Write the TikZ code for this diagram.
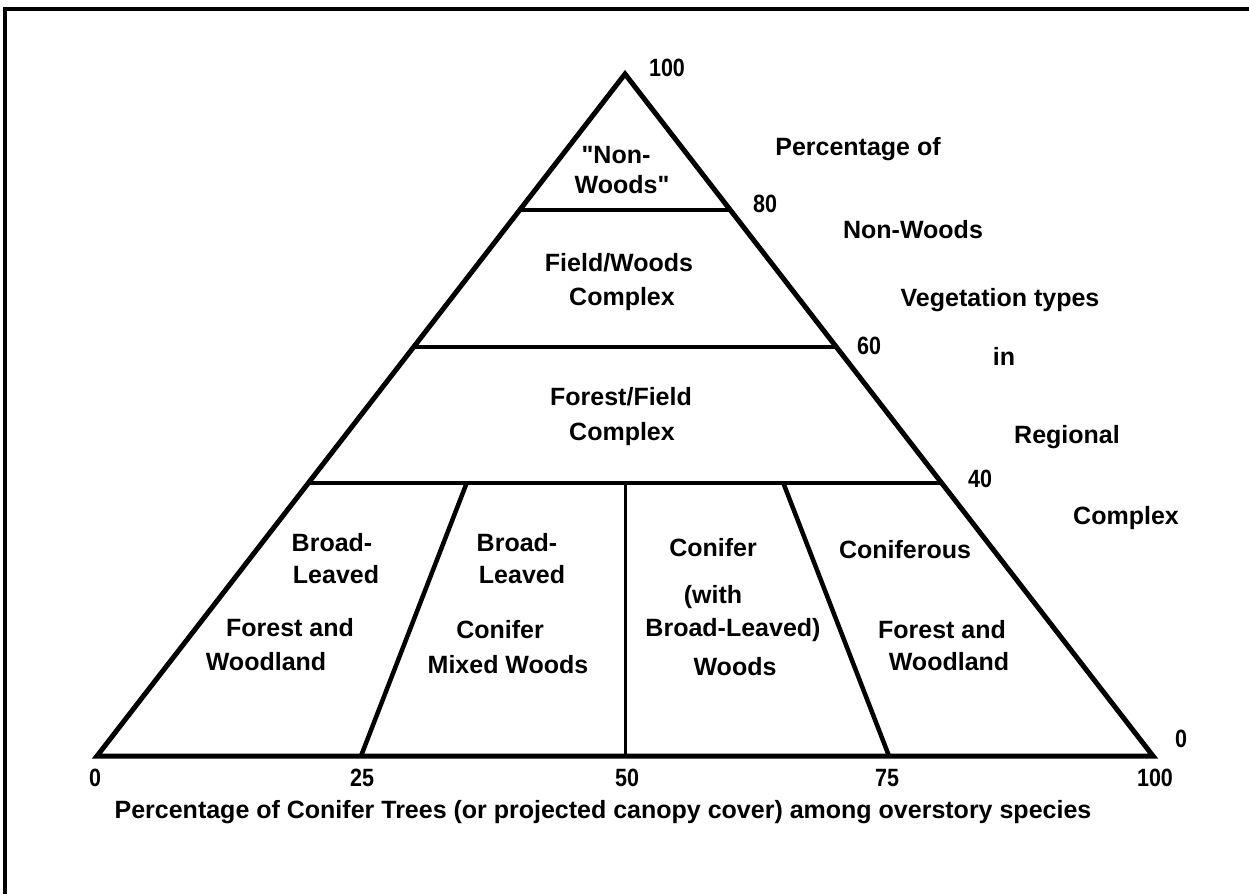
\documentclass[tikz,border=0pt]{standalone}
\usepackage{fontspec}
\setmainfont{Liberation Sans}[Ligatures=TeXOff]
\usepackage{graphicx}
\usetikzlibrary{calc}

\newcommand\narrownum[1]{\scalebox{0.86}[1]{#1}}

\tikzset{
  edgeline/.style={line width=5pt},
  bandline/.style={line width=4pt},
  splitline/.style={line width=4.5pt},
  midline/.style={line width=3pt},
  txt/.style={font=\bfseries\fontsize{25}{30}\selectfont, inner sep=0pt, anchor=base},
  num/.style={font=\bfseries\fontsize{25}{30}\selectfont, inner sep=0pt, anchor=base}
}

\begin{document}
\begin{tikzpicture}[x=1pt,y=-1pt]
    \useasboundingbox (0,0) rectangle (1249,894);
    \fill[white] (0,0) rectangle (1249,894);

    % frame
    \draw[line width=4pt] (5,894) -- (5,9) -- (1249,9);

    \coordinate (apex) at (625,74);
    \coordinate (bl) at (97,756);
    \coordinate (br) at (1153,756);
    \coordinate (l80) at ($(bl)!0.8!(apex)$);
    \coordinate (r80) at ($(br)!0.8!(apex)$);
    \coordinate (l60) at ($(bl)!0.6!(apex)$);
    \coordinate (r60) at ($(br)!0.6!(apex)$);
    \coordinate (l40) at ($(bl)!0.4!(apex)$);
    \coordinate (r40) at ($(br)!0.4!(apex)$);
    \coordinate (t25) at ($(l40)!0.25!(r40)$);
    \coordinate (t50) at ($(l40)!0.5!(r40)$);
    \coordinate (t75) at ($(l40)!0.75!(r40)$);
    \coordinate (b25) at ($(bl)!0.25!(br)$);
    \coordinate (b50) at ($(bl)!0.5!(br)$);
    \coordinate (b75) at ($(bl)!0.75!(br)$);

    \draw[bandline] (l80) -- (r80);
    \draw[bandline] (l60) -- (r60);
    \draw[bandline] (l40) -- (r40);
    \draw[splitline] (t25) -- (b25);
    \draw[midline] (t50) -- (b50);
    \draw[splitline] (t75) -- (b75);
    \draw[edgeline] (bl) -- (apex) -- (br) -- cycle;

    % classes
    \node[txt] (nw1) at (616,163) {"Non-};
    \node[txt] (nw2) at (622,193) {Woods"};
    \node[txt] (fw1) at (619,271) {Field/Woods};
    \node[txt] (fw2) at (622,305) {Complex};
    \node[txt] (ff1) at (621,405) {Forest/Field};
    \node[txt] (ff2) at (622,440) {Complex};

    \node[txt] (bf1) at (332,551) {Broad-};
    \node[txt] (bf2) at (336,583) {Leaved};
    \node[txt] (bf3) at (290,636) {Forest and};
    \node[txt] (bf4) at (266,670) {Woodland};

    \node[txt] (bm1) at (517,551) {Broad-};
    \node[txt] (bm2) at (522,583) {Leaved};
    \node[txt] (bm3) at (500,638) {Conifer};
    \node[txt] (bm4) at (508,673) {Mixed Woods};

    \node[txt] (cw1) at (713,556) {Conifer};
    \node[txt] (cw2) at (713,603) {(with};
    \node[txt] (cw3) at (733,636) {Broad-Leaved)};
    \node[txt] (cw4) at (735,675) {Woods};

    \node[txt] (cf1) at (905,558) {Coniferous};
    \node[txt] (cf2) at (942,638) {Forest and};
    \node[txt] (cf3) at (949,670) {Woodland};

    % right-hand title
    \node[txt] (rt1) at (858,155) {Percentage of};
    \node[txt] (rt2) at (913,238) {Non-Woods};
    \node[txt] (rt3) at (1000,306) {Vegetation types};
    \node[txt] (rt4) at (1004,365) {in};
    \node[txt] (rt5) at (1067,443) {Regional};
    \node[txt] (rt6) at (1126,524) {Complex};

    % scale values
    \node[num] (v100) at (667,76) {\narrownum{100}};
    \node[num] (v80) at (765,212) {\narrownum{80}};
    \node[num] (v60) at (869,354) {\narrownum{60}};
    \node[num] (v40) at (980,487) {\narrownum{40}};
    \node[num] (v0) at (1181,747) {\narrownum{0}};

    \node[num] (h0) at (95,786) {\narrownum{0}};
    \node[num] (h25) at (362,786) {\narrownum{25}};
    \node[num] (h50) at (627,786) {\narrownum{50}};
    \node[num] (h75) at (887,786) {\narrownum{75}};
    \node[num] (h100) at (1155,786) {\narrownum{100}};

    \node[txt] (xt) at (603,818) {Percentage of Conifer Trees (or projected canopy cover) among overstory species};
\end{tikzpicture}
\end{document}
